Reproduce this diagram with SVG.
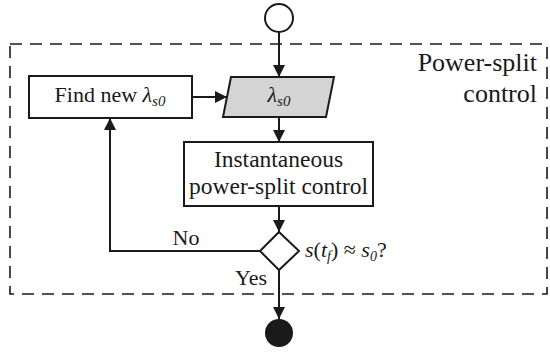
<svg xmlns="http://www.w3.org/2000/svg" width="550" height="354" viewBox="0 0 550 354">
<style>
.ln{fill:none;stroke:#1a1a1a;stroke-width:2}
.bx{fill:#fff;stroke:#1a1a1a;stroke-width:2}
.t{font-family:'Liberation Serif',serif;fill:#1a1a1a}
.i{font-style:italic}
</style>
<defs>
<marker id="ah" viewBox="0 0 12 12" refX="12" refY="6" markerWidth="12" markerHeight="12" markerUnits="userSpaceOnUse" orient="auto">
<path d="M0,0 L12,6 L0,12 z" fill="#1a1a1a"/>
</marker>
</defs>
<rect x="10" y="44" width="537" height="250" fill="none" stroke="#1a1a1a" stroke-width="1.6" stroke-dasharray="12 8"/>
<text class="t" x="537" y="71" text-anchor="end" font-size="26">Power-split</text>
<text class="t" x="537" y="102" text-anchor="end" font-size="26">control</text>
<g id="connectors">
<line class="ln" x1="279" y1="32" x2="279" y2="77" marker-end="url(#ah)"/>
<line class="ln" x1="192" y1="97" x2="227" y2="97" marker-end="url(#ah)"/>
<line class="ln" x1="279" y1="117" x2="279" y2="142" marker-end="url(#ah)"/>
<line class="ln" x1="279" y1="206" x2="279" y2="232" marker-end="url(#ah)"/>
<polyline class="ln" points="260,251 110,251 110,118" marker-end="url(#ah)"/>
<line class="ln" x1="279" y1="270" x2="279" y2="319" marker-end="url(#ah)"/>
<text class="t" x="186" y="245" text-anchor="middle" font-size="22">No</text>
<text class="t" x="251" y="285" text-anchor="middle" font-size="22">Yes</text>
</g>
<g id="start"><circle class="bx" cx="279" cy="18" r="14"/></g>
<g id="find"><rect class="bx" x="29" y="76" width="163" height="42"/>
<text class="t" x="110" y="102" text-anchor="middle" font-size="22">Find new <tspan class="i">λ</tspan><tspan class="i" font-size="15" dy="4">s0</tspan></text></g>
<g id="lambda"><polygon points="231,77 334,77 326,117 223,117" fill="#d4d4d4" stroke="#1a1a1a" stroke-width="2"/>
<text class="t" x="279" y="102" text-anchor="middle" font-size="22"><tspan class="i">λ</tspan><tspan class="i" font-size="15" dy="4">s0</tspan></text></g>
<g id="instant"><rect class="bx" x="184" y="142" width="189" height="64"/>
<text class="t" x="278.5" y="167" text-anchor="middle" font-size="23.5">Instantaneous</text>
<text class="t" x="278.5" y="194" text-anchor="middle" font-size="23.5">power-split control</text></g>
<g id="decision"><polygon class="bx" points="279,232 299,251 279,270 260,251"/>
<text class="t" x="305" y="257" font-size="22"><tspan class="i">s</tspan>(<tspan class="i">t</tspan><tspan class="i" font-size="14" dy="4">f</tspan><tspan dy="-4">)</tspan> ≈ <tspan class="i">s</tspan><tspan class="i" font-size="14" dy="4">0</tspan><tspan dy="-4">?</tspan></text></g>
<g id="end"><circle cx="279" cy="333" r="14" fill="#1a1a1a"/></g>
</svg>
